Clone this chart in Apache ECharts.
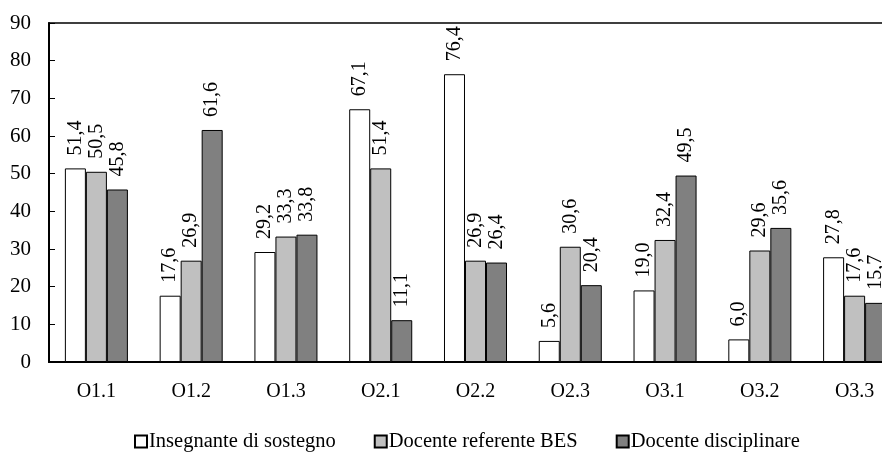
<!DOCTYPE html>
<html>
<head>
<meta charset="utf-8">
<script src="https://cdn.jsdelivr.net/npm/echarts@6/dist/echarts.min.js"></script>
<style>html,body{margin:0;padding:0;background:#fff}#c{width:882px;height:454px}</style>
</head>
<body>
<div id="c"></div>
<script>
const categories = ['O1.1','O1.2','O1.3','O2.1','O2.2','O2.3','O3.1','O3.2','O3.3'];
const seriesNames = ['Insegnante di sostegno','Docente referente BES','Docente disciplinare'];
const sostegno = [51.4, 17.6, 29.2, 67.1, 76.4, 5.6, 19.0, 6.0, 27.8];
const referenteBES = [50.5, 26.9, 33.3, 51.4, 26.9, 30.6, 32.4, 29.6, 17.6];
const disciplinare = [45.8, 61.6, 33.8, 11.1, 26.4, 20.4, 49.5, 35.6, 15.7];
const yTicks = [0,10,20,30,40,50,60,70,80,90];

const colors = ['#ffffff','#c0c0c0','#808080'];
const FONT = 'Liberation Serif';
function mk(name, data, color) {
  return {
    name, type: 'bar', data,
    barGap: '0%', barCategoryGap: '33.5%',
    itemStyle: {color, borderColor: '#000', borderWidth: 1},
    label: {
      show: true, position: 'top', rotate: 90, align: 'left', verticalAlign: 'middle',
      distance: 13, fontFamily: FONT, fontSize: 20, color: '#000',
      formatter: p => p.value.toFixed(1).replace('.', ',')
    }
  };
}
const chart = echarts.init(document.getElementById('c'), null, {renderer: 'canvas'});
chart.setOption({
  animation: false,
  backgroundColor: '#fff',
  grid: {left: 49, top: 23, width: 853, height: 339, outerBoundsMode: 'none', containLabel: false,
    show: true, borderColor: '#000', borderWidth: 1.5, backgroundColor: 'transparent'},
  legend: {
    bottom: -3, left: 129, icon: 'rect', itemWidth: 12, itemHeight: 12, itemGap: 38,
    textStyle: {fontFamily: FONT, fontSize: 20.5, color: '#000', padding: [0,0,0,-3]},
    data: seriesNames
  },
  xAxis: {
    type: 'category', data: categories,
    axisLine: {lineStyle: {color: '#000', width: 2}},
    axisTick: {show: false},
    axisLabel: {fontFamily: FONT, fontSize: 20, color: '#000', margin: 20}
  },
  yAxis: {
    type: 'value', min: 0, max: 90, interval: 10,
    axisLine: {show: true, lineStyle: {color: '#000', width: 2}},
    axisTick: {show: true, inside: true, length: 6, lineStyle: {color: '#000', width: 1}},
    splitLine: {show: false},
    axisLabel: {fontFamily: FONT, fontSize: 21, color: '#000', margin: 18,
      formatter: v => yTicks.includes(v) ? String(v) : ''}
  },
  series: [
    mk(seriesNames[0], sostegno, colors[0]),
    mk(seriesNames[1], referenteBES, colors[1]),
    mk(seriesNames[2], disciplinare, colors[2])
  ]
});
</script>
</body>
</html>
